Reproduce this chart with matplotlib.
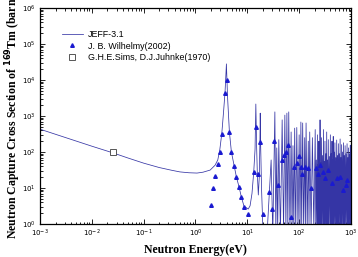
import matplotlib
matplotlib.use("Agg")
import matplotlib.pyplot as plt
from matplotlib.ticker import LogLocator, NullFormatter

# --- JEFF-3.1 evaluated capture cross section ---
jeff_e = [0.001, 0.002, 0.005, 0.01, 0.0253, 0.05, 0.1, 0.2, 0.35, 0.5,
          0.75, 1.07, 1.4, 1.92, 2.39, 2.69, 2.94, 3.22, 3.5, 3.72,
          3.95, 4.15, 4.35, 4.51, 4.93, 5.56, 6.17, 6.95, 7.7, 8.7,
          9.7, 10.4, 11.3, 12.3, 13.3, 14.1, 14.6, 15.1, 15.6, 16.3,
          17.0, 17.5, 17.75, 18.1, 18.8, 20.0,
          24.0, 28.8, 31.0, 34.0, 35.5, 37.0, 38.5, 40.5, 43.5, 47.0,
          50.0, 53.0, 55.5, 58.0, 60.5, 63.0, 66.5, 70.0, 73.0, 76.0,
          79.0, 82.0, 86.0, 90.0, 95.0, 100, 104, 108, 112, 117,
          122, 128, 132, 136, 143, 150, 155, 160, 170, 180,
          192, 204, 209, 214, 219, 225, 229, 233, 237, 240,
          244, 248, 250, 253, 258, 263, 266, 270, 276, 282,
          288, 294, 300, 305, 310, 315, 321, 328, 334, 340,
          346, 352, 358, 365, 373, 382, 391, 400, 407, 415,
          422, 430, 436, 442, 448, 455, 463, 472, 481, 490,
          500, 510, 520, 530, 540, 550, 560, 570, 581, 593,
          605, 617, 627, 638, 649, 660, 674, 688, 702, 716,
          729, 742, 756, 770, 787, 805, 822, 840, 855, 870,
          885, 900, 917, 935, 952, 970, 985, 1000]
jeff_xs = [430, 310, 200, 145, 95, 68, 49, 37, 31, 28,
           26.5, 26, 27.5, 31.5, 43, 60, 113, 330, 1450, 4700,
           28000, 3500, 900, 365, 100, 42, 20, 10.5, 5.5, 3.0,
           2.8, 2.6, 3.2, 7, 28, 120, 2150, 150, 25, 6.4,
           20, 200, 1200, 150, 10, 0.7,
           0.5, 60, 0.5, 1300, 0.6, 130, 0.6, 220, 0.5, 780,
           0.6, 1060, 0.6, 1200, 0.6, 1300, 0.5, 360, 0.6, 150,
           0.6, 460, 0.5, 480, 0.6, 300, 0.6, 680, 0.7, 640,
           0.6, 250, 0.7, 640, 0.6, 200, 0.8, 360, 0.6, 250,
           0.7, 420, 1.0, 60, 0.8, 300, 1.0, 45, 0.9, 200,
           1.0, 70, 0.9, 780, 1.0, 50, 0.9, 250, 1.0, 80,
           0.9, 420, 1.0, 55, 0.9, 200, 1.0, 90, 0.9, 360,
           1.0, 60, 0.9, 220, 1.0, 75, 0.9, 300, 1.0, 90,
           0.9, 200, 1.0, 60, 0.9, 270, 1.0, 100, 0.9, 180,
           1.0, 70, 0.9, 215, 1.0, 80, 0.9, 170, 1.0, 90,
           0.9, 230, 1.0, 70, 0.9, 160, 1.0, 100, 0.9, 180,
           1.0, 80, 0.9, 150, 1.0, 90, 0.9, 170, 1.0, 70,
           0.9, 130, 1.0, 90, 0.9, 155, 1.0, 60]

# --- J. B. Wilhelmy (2002) measurement ---
wil_e = [1.97, 2.16, 2.39, 2.69, 2.94, 3.22, 3.72, 4.07, 4.51, 4.93,
         5.56, 6.17, 6.95, 7.7, 8.7, 10.4, 13.3, 14.6, 16.4, 17.7,
         19.9, 26.7, 29.7, 33.4, 38.8, 46, 51, 55, 62, 70,
         81, 90, 99, 109, 116, 131, 151, 168, 213, 229,
         254, 286, 317, 357, 427, 533, 617, 716, 795, 855]
wil_xs = [3.4, 9.8, 22, 45, 100, 320, 4400, 10000, 365, 100,
          42, 20, 10.5, 5.5, 3.0, 1.86, 28, 500, 25, 190,
          1.9, 7.9, 2.6, 203, 12, 60, 83, 101, 155, 1.6,
          39, 49, 77, 39, 25, 39, 35, 9.8, 35, 25,
          44, 28, 18.6, 31.6, 13.5, 18.6, 20.7, 8.8, 12, 16.7]

# --- G.H.E. Sims, D.J. Juhnke (1970) thermal point ---
sims_e = [0.0253]
sims_xs = [100]

fig = plt.figure(figsize=(3.58, 2.57), dpi=100)
ax = fig.add_axes([0.1117, 0.1284, 0.8687, 0.8405])

ax.plot(jeff_e, jeff_xs, color="#3535a5", lw=0.55, label="JEFF-3.1", zorder=2)
ax.plot(wil_e, wil_xs, ls="none", marker="^", ms=2.6, color="#1a1ad0",
        mec="#1a1ad0", label="J. B. Wilhelmy(2002)", zorder=3)
ax.plot(sims_e, sims_xs, ls="none", marker="s", ms=4, mfc="white",
        mec="#555555", mew=0.7, label="G.H.E.Sims, D.J.Juhnke(1970)", zorder=4)

ax.set_xscale("log")
ax.set_yscale("log")
ax.set_xlim(1e-3, 1e3)
ax.set_ylim(1e0, 1e6)

for axis in (ax.xaxis, ax.yaxis):
    axis.set_major_locator(LogLocator(base=10, numticks=10))
    axis.set_minor_locator(LogLocator(base=10, subs=range(2, 10), numticks=10))
    axis.set_minor_formatter(NullFormatter())
ax.tick_params(which="both", direction="in", top=True, right=True, width=0.6)
ax.tick_params(which="major", length=3.5, labelsize=5, pad=3)
ax.tick_params(which="minor", length=1.8)
for s in ax.spines.values():
    s.set_linewidth(0.9)

ax.set_xlabel("Neutron Energy(eV)", family="Liberation Serif",
              fontweight="bold", fontsize=8.5, labelpad=3)
ax.set_ylabel("Neutron Capture Cross Section of $^{\\mathbf{169}}$Tm (barn)",
              family="Liberation Serif", fontweight="bold", fontsize=8.5, labelpad=-1)

ax.legend(loc="upper left", bbox_to_anchor=(0.06, 0.915), frameon=False,
          prop={"family": "Liberation Sans", "size": 6.4}, handlelength=2.3,
          handletextpad=0.6, labelspacing=0.3, borderaxespad=0)

fig.savefig("out.png", dpi=100)
